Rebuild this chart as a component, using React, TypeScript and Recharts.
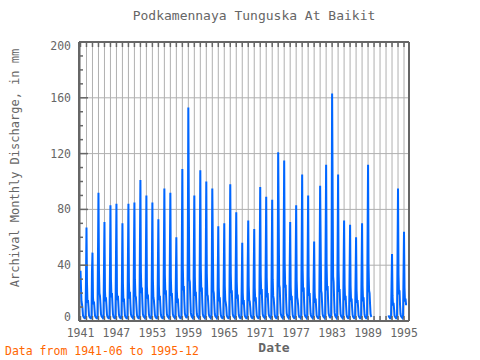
import React from 'react';
import { LineChart, Line, XAxis, YAxis, CartesianGrid, ReferenceLine } from 'recharts';

// monthly discharge (mm), one row per year Jan..Dec, null = no record
const firstYear = 1941;
const tickYears = [1941, 1947, 1953, 1959, 1965, 1971, 1977, 1983, 1989, 1995];
const yLabels = [0, 40, 80, 120, 160, 200];

const flowByYear: (number | null)[][] = [
  [null, null, null, null, null, 36, 24, 14, 12, 9, 4, 3], // 1941
  [2.5, 2, 2, 2.5, 30, 67, 27, 13, 15, 10, 4, 3],
  [2.5, 2, 2, 2.5, 36, 49, 17, 12, 14, 9, 4, 3],
  [2.5, 2, 2, 3, 47, 92, 36, 20, 18, 12, 5, 3.5],
  [3, 2.5, 2, 2.5, 36, 71, 22, 14, 17, 11, 4.5, 3],
  [2.5, 2, 2, 3, 34, 83, 30, 17, 20, 12, 5, 3],
  [2.5, 2, 2, 3, 42, 84, 20, 15, 18, 11, 4.5, 3],
  [2.5, 2, 2, 2.5, 30, 70, 27, 14, 16, 10, 4, 3],
  [2.5, 2, 2, 3, 44, 84, 28, 16, 21, 12, 5, 3.5],
  [3, 2.5, 2, 3, 46, 85, 30, 18, 17, 11, 4.5, 3], // 1950
  [2.5, 2, 2, 3, 52, 101, 35, 20, 24, 13, 5, 3.5],
  [3, 2.5, 2, 3, 46, 90, 25, 16, 19, 12, 5, 3],
  [2.5, 2, 2, 3, 42, 85, 30, 17, 15, 10, 4.5, 3],
  [2.5, 2, 2, 2.5, 38, 73, 26, 15, 18, 11, 4.5, 3],
  [2.5, 2, 2, 3, 49, 95, 33, 19, 22, 13, 5, 3.5],
  [3, 2.5, 2, 3, 47, 92, 31, 18, 20, 12, 5, 3.5],
  [3, 2.5, 2, 2.5, 31, 60, 22, 13, 16, 10, 4, 3],
  [2.5, 2, 2, 3, 56, 109, 38, 22, 25, 14, 5.5, 4],
  [3, 2.5, 2.5, 3.5, 60, 153, 82, 30, 28, 16, 6, 4],
  [3, 2.5, 2, 3, 47, 90, 32, 18, 21, 12, 5, 3.5], // 1960
  [3, 2.5, 2, 3, 51, 108, 38, 21, 24, 13, 5, 3.5],
  [3, 2.5, 2, 3, 51, 100, 34, 19, 18, 12, 5, 3.5],
  [3, 2.5, 2, 3, 40, 95, 58, 22, 20, 12, 5, 3.5],
  [3, 2.5, 2, 2.5, 35, 68, 24, 14, 17, 10, 4.5, 3],
  [2.5, 2, 2, 2.5, 35, 70, 25, 15, 13, 10, 4, 3],
  [2.5, 2, 2, 3, 50, 98, 34, 20, 22, 13, 5, 3.5],
  [3, 2.5, 2, 3, 42, 78, 28, 16, 19, 11, 4.5, 3],
  [2.5, 2, 2, 2.5, 28, 56, 20, 12, 15, 9, 4, 3],
  [2.5, 2, 2, 2.5, 42, 72, 25, 15, 14, 10, 4.5, 3],
  [2.5, 2, 2, 2.5, 35, 66, 24, 14, 17, 10, 4, 3], // 1970
  [2.5, 2, 2, 3, 49, 96, 33, 19, 23, 13, 5, 3.5],
  [3, 2.5, 2, 3, 45, 89, 31, 17, 20, 12, 5, 3.5],
  [3, 2.5, 2, 3, 44, 87, 30, 18, 16, 11, 4.5, 3],
  [2.5, 2, 2, 3, 37, 121, 72, 26, 24, 14, 5.5, 4],
  [3, 2.5, 2, 3, 58, 115, 42, 24, 26, 14, 5.5, 4],
  [3, 2.5, 2, 2.5, 37, 71, 25, 15, 18, 11, 4.5, 3],
  [2.5, 2, 2, 3, 43, 83, 29, 17, 15, 11, 4.5, 3],
  [3, 2.5, 2, 3, 53, 105, 36, 21, 24, 13, 5, 3.5],
  [3, 2.5, 2, 3, 46, 90, 32, 18, 20, 12, 5, 3.5],
  [3, 2.5, 2, 2.5, 29, 57, 21, 13, 16, 10, 4, 3], // 1980
  [2.5, 2, 2, 3, 45, 97, 58, 22, 20, 12, 5, 3.5],
  [3, 2.5, 2, 3, 58, 112, 40, 22, 25, 14, 5.5, 4],
  [3, 2.5, 2.5, 3.5, 62, 163, 94, 32, 28, 16, 6, 4],
  [3, 2.5, 2, 3, 53, 105, 36, 21, 23, 13, 5, 3.5],
  [3, 2.5, 2, 2.5, 37, 72, 26, 15, 18, 11, 4.5, 3],
  [2.5, 2, 2, 2.5, 35, 69, 25, 14, 16, 10, 4.5, 3],
  [2.5, 2, 2, 2.5, 31, 60, 22, 13, 15, 10, 4, 3],
  [2.5, 2, 2, 2.5, 36, 70, 25, 14, 17, 10, 4.5, 3],
  [2.5, 2, 2, 3, 58, 112, 40, 22, 20, 12, 5, 3.5],
  [3, null, null, null, null, null, null, null, null, null, null, null], // 1990
  [null, null, null, null, null, null, null, null, null, null, null, null],
  [null, null, null, null, null, null, null, null, null, null, 4, 3],
  [2.5, 2, 2, 2.5, 25, 48, 18, 11, 13, 9, 4, 3],
  [2.5, 2, 2, 3, 46, 95, 33, 19, 22, 12, 5, 3.5],
  [3, 2.5, 2, 2.5, 32, 64, 24, 14, 16, 12, 12, 12], // 1995
];

// month index 0 = 1941-06
const data: { i: number; flow: number | null }[] = [];
flowByYear.forEach((row, y) =>
  row.forEach((v, m) => {
    const i = y * 12 + m - 5;
    if (i >= 0) data.push({ i, flow: v });
  })
);

const yearTicks = flowByYear.map((_, k) => k * 12);
const minorTicks = Array.from({ length: 21 }, (_, k) => k * 10);

const FONT = '"DejaVu Sans Mono", monospace';
const TXT = '#666666';
const AXIS = '#666666';

const BottomTick = ({ x, y, payload }: any) => {
  const year = firstYear + payload.value / 12;
  return (
    <g>
      <line x1={x} x2={x} y1={y} y2={y - 5} stroke={AXIS} strokeWidth={1.5} />
      {tickYears.includes(year) && (
        <text x={x} y={y + 16} textAnchor="middle" fontFamily={FONT} fontSize={11.5} fill={TXT}>
          {year}
        </text>
      )}
    </g>
  );
};

const TopTick = ({ x, y }: any) => (
  <line x1={x} x2={x} y1={y} y2={y + 5} stroke={AXIS} strokeWidth={1.5} />
);

const LeftTick = ({ x, y, payload }: any) => {
  const v = payload.value;
  const major = yLabels.includes(v);
  const dy = v === 0 ? 0 : v === 200 ? 8 : 4;
  return (
    <g>
      <line x1={x} x2={x + (major ? 9 : 4)} y1={y} y2={y} stroke={AXIS} strokeWidth={1.5} />
      {major && (
        <text x={x - 8} y={y + dy} textAnchor="end" fontFamily={FONT} fontSize={11.5} fill={TXT}>
          {v}
        </text>
      )}
    </g>
  );
};

const RightTick = ({ x, y, payload }: any) => {
  const major = yLabels.includes(payload.value);
  return <line x1={x} x2={x - (major ? 7 : 4)} y1={y} y2={y} stroke={AXIS} strokeWidth={1.5} />;
};

const abs = (left: number, top: number, size: number, extra: React.CSSProperties = {}): React.CSSProperties => ({
  position: 'absolute',
  left,
  top,
  fontFamily: FONT,
  fontSize: size,
  lineHeight: `${size}px`,
  color: TXT,
  whiteSpace: 'nowrap',
  ...extra,
});

export default function App() {
  return (
    <div style={{ position: 'absolute', left: 0, top: 0, width: 480, height: 360, background: '#fff' }}>
      <LineChart width={480} height={360} data={data} margin={{ top: 41, right: 70, bottom: 0, left: 0 }}>
        <CartesianGrid horizontal={false} stroke="#b0b0b0" strokeWidth={1} />
        {[40, 80, 120, 160].map((v) => (
          <ReferenceLine key={v} y={v} stroke="#b0b0b0" strokeWidth={1} />
        ))}
        <XAxis
          dataKey="i"
          type="number"
          domain={[-3, 658]}
          ticks={yearTicks}
          interval={0}
          height={39}
          tickSize={0}
          tickMargin={0}
          tickLine={false}
          tick={(p: any) => <BottomTick {...p} />}
          axisLine={{ stroke: AXIS, strokeWidth: 2 }}
          allowDataOverflow
        />
        <XAxis
          xAxisId="top"
          orientation="top"
          dataKey="i"
          type="number"
          domain={[-3, 658]}
          ticks={yearTicks}
          interval={0}
          height={1}
          tickSize={0}
          tickMargin={0}
          tickLine={false}
          tick={(p: any) => <TopTick {...p} />}
          axisLine={{ stroke: AXIS, strokeWidth: 2 }}
        />
        <YAxis
          domain={[0, 200]}
          ticks={minorTicks}
          interval={0}
          width={79}
          tickSize={0}
          tickMargin={0}
          tickLine={false}
          tick={(p: any) => <LeftTick {...p} />}
          axisLine={{ stroke: AXIS, strokeWidth: 2 }}
          allowDataOverflow
        />
        <YAxis
          yAxisId="right"
          orientation="right"
          domain={[0, 200]}
          ticks={minorTicks}
          interval={0}
          width={1}
          tickSize={0}
          tickMargin={0}
          tickLine={false}
          tick={(p: any) => <RightTick {...p} />}
          axisLine={{ stroke: AXIS, strokeWidth: 2 }}
        />
        <Line
          dataKey="flow"
          type="linear"
          stroke="#0066ff"
          strokeWidth={2}
          dot={false}
          connectNulls={false}
          isAnimationActive={false}
        />
      </LineChart>
      <div style={abs(0, 9, 13, { width: 508, textAlign: 'center' })}>Podkamennaya Tunguska At Baikit</div>
      <div style={abs(0, 341, 13, { width: 548, textAlign: 'center', fontWeight: 'bold' })}>Date</div>
      <div style={abs(5, 346, 11.5, { color: '#ff6600' })}>Data from 1941-06 to 1995-12</div>
      <div
        style={abs(15, 168, 12, {
          transform: 'translate(-50%, -50%) rotate(-90deg)',
        })}
      >
        Archival Monthly Discharge, in mm
      </div>
    </div>
  );
}
